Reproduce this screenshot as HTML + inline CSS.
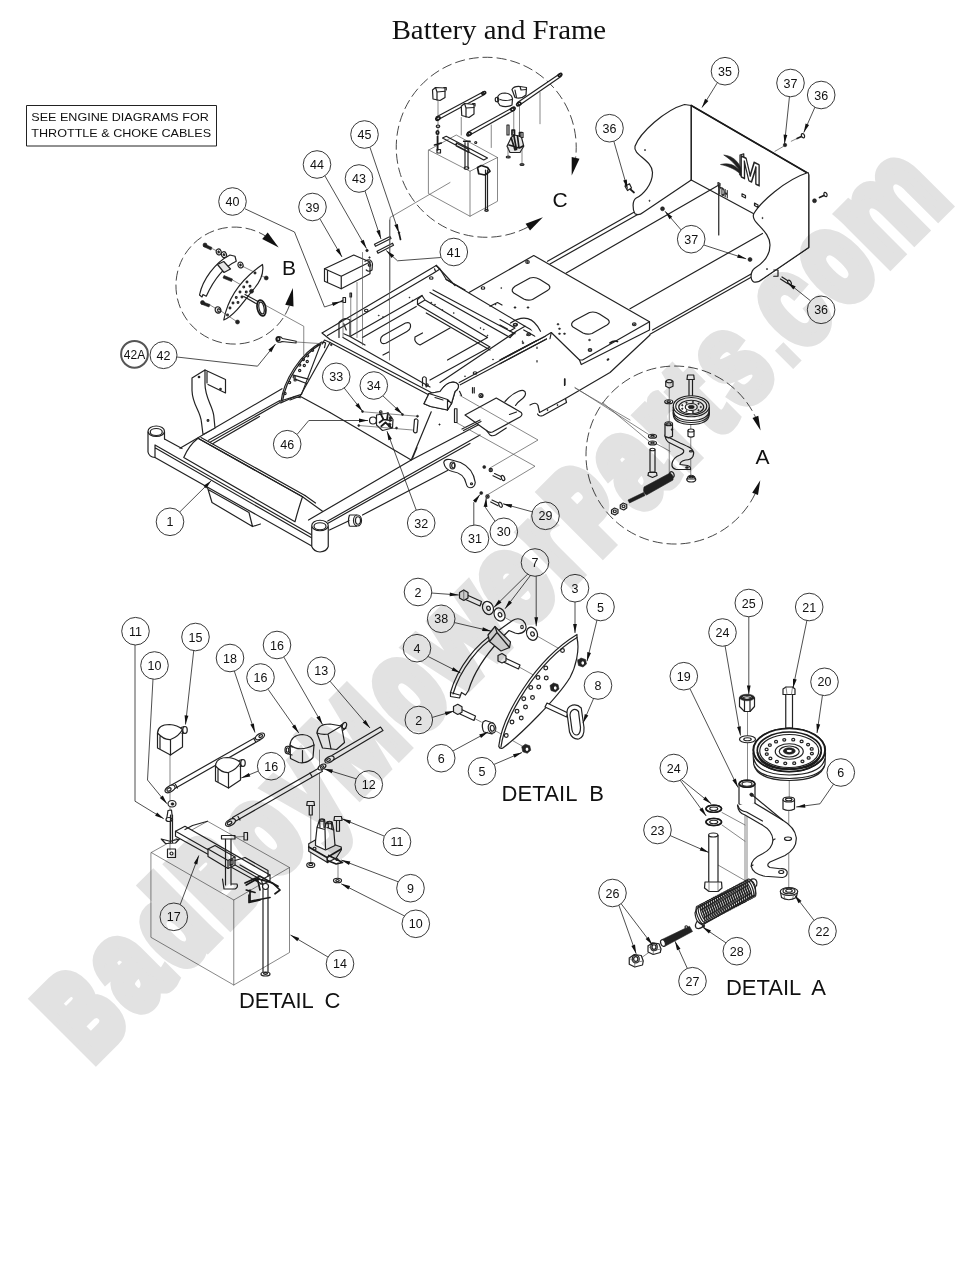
<!DOCTYPE html>
<html lang="en">
<head>
<meta charset="utf-8">
<title>Battery and Frame</title>
<style>
html,body{margin:0;padding:0;background:#fff;}
body{width:980px;height:1269px;overflow:hidden;position:relative;}
svg{display:block;position:absolute;left:0;top:0;}
path,ellipse,circle,line,rect,polyline,polygon{vector-effect:non-scaling-stroke;}
.ln{fill:none;stroke:#222;stroke-width:1.2;stroke-linecap:round;stroke-linejoin:round;}
.hv{fill:none;stroke:#1a1a1a;stroke-width:1.7;stroke-linecap:round;stroke-linejoin:round;}
.th{fill:none;stroke:#555;stroke-width:.7;stroke-linecap:round;stroke-linejoin:round;}
.ld{fill:none;stroke:#222;stroke-width:.8;stroke-linejoin:miter;}
.fw{fill:#fff;stroke:#222;stroke-width:1.2;stroke-linejoin:round;}
.fg{fill:#e6e6e6;stroke:#222;stroke-width:1.2;stroke-linejoin:round;}
.fk{fill:#222;stroke:#222;stroke-width:.6;}
.dash{fill:none;stroke:#333;stroke-width:.9;stroke-dasharray:10 4;}
.co circle{fill:#fff;stroke:#222;stroke-width:.9;}
.co text{font-family:"Liberation Sans","DejaVu Sans",sans-serif;fill:#111;text-anchor:middle;}
.big{font-family:"Liberation Sans","DejaVu Sans",sans-serif;fill:#111;}
.wm{font-family:"Liberation Sans","DejaVu Sans",sans-serif;font-weight:bold;fill:#e2e2e2;stroke:#e2e2e2;}
.wm text{vector-effect:non-scaling-stroke;}
#wm{mix-blend-mode:multiply;}
</style>
</head>
<body>
<svg width="980" height="1269" viewBox="0 0 980 1269">
<rect width="980" height="1269" fill="#fff"/>

<text x="498.9" y="38.7" text-anchor="middle" font-family="'Liberation Serif','DejaVu Serif',serif" font-size="26.5" fill="#111" textLength="214.5" lengthAdjust="spacingAndGlyphs">Battery and Frame</text>
<rect x="26.5" y="105.5" width="190" height="40.5" fill="#fff" stroke="#222" stroke-width="1"/>
<text class="big" font-size="11.6" x="31.3" y="121.3" textLength="177.5" lengthAdjust="spacingAndGlyphs">SEE ENGINE DIAGRAMS FOR</text>
<text class="big" font-size="11.6" x="31.3" y="136.6" textLength="179.8" lengthAdjust="spacingAndGlyphs">THROTTLE &amp; CHOKE CABLES</text>

<g id="rails">
<g transform="translate(500,200) scale(0.25000)"><path class="ln" d="M190,245 L548,42 M200,256 L556,55 M265,292 L872,-58 M520,435 L1050,134 M610,520 L1015,290 M600,537 L1010,306"/></g>
</g>
<g id="main">
<g transform="translate(130,340) scale(0.25000)"><path class="ln" d="M72,368 L72,448 Q76,468 100,470 M138,368 L138,396"/><ellipse class="ln" cx="105" cy="365" rx="33" ry="21"/><ellipse class="ln" cx="105" cy="368" rx="24" ry="14"/><path class="ln" d="M138,396 L208,434 M100,420 L728,780 M100,431 L726,791 M100,470 L727,824 M100,420 L100,470"/><path class="ln" d="M310,590 L328,650 L490,746 L476,690 M316,600 L476,690 M490,746 L522,736"/><path class="fw" d="M727,745 L727,826 Q735,846 760,848 Q787,846 793,826 L793,745"/><ellipse class="fw" cx="760" cy="742" rx="33" ry="21"/><ellipse class="ln" cx="760" cy="745" rx="24" ry="14"/><path class="fw" d="M272,393 Q235,422 215,470 L660,727 Q672,680 690,627 Z"/><path class="ln" d="M272,393 L690,627 M284,390 L700,622"/><path class="ln" d="M690,627 L770,685 M700,622 L742,652"/><path class="ln" d="M200,433 L608,195 M314,401 L598,243 M320,409 L600,250 M332,414 L518,306 M598,245 L656,227 L682,231"/><path class="fw" d="M248,152 L300,120 L300,176 C300,232 330,262 335,302 L340,352 L292,378 L286,330 C282,282 250,262 248,202 Z"/><path class="ln" d="M300,120 L382,158 L382,212 L312,178 M308,128 L308,172"/><circle class="ln" cx="276" cy="148" r="3"/><circle class="ln" cx="312" cy="322" r="3.5"/><circle class="ln" cx="362" cy="196" r="3"/></g>
<g transform="translate(330,340) scale(0.25000)"><path class="ln" d="M-86,720 L325,480 L600,336 M-9,724 L600,380 M-8,733 L560,414 M-2,760 L78,722 M130,700 L470,522"/><path class="fw" d="M78,700 L108,700 M78,745 L108,745 M78,700 Q70,722 78,745"/><ellipse class="fw" cx="110" cy="722" rx="16" ry="22"/><ellipse class="ln" cx="112" cy="722" rx="10" ry="15"/><path class="ln" d="M0,290 L325,480 L405,287 M330,473 L348,430"/><path class="fw" d="M376,255 L396,214 L440,206 C458,178 482,164 502,170 C522,178 514,198 500,206 L486,254 L470,280 L402,266 Z"/><path class="ln" d="M396,214 L470,238 L486,254 M470,238 L470,280 M420,230 L452,240"/><path class="fw" d="M540,300 L665,232 L765,290 Q772,300 760,308 L650,368 Q636,372 626,362 Z"/><path class="ln" d="M626,362 L640,380 Q650,386 662,380 L705,352 M600,320 L528,356 M604,326 L534,362 M718,298 L746,288"/><path class="th" d="M520,222 L832,400 L640,512 M505,330 L820,505 L632,618"/><path class="ln" d="M498,275 L498,330 M508,275 L508,330 M498,275 L508,275 M498,330 L508,330 M518,205 L526,222 M570,190 L570,212 M577,190 L577,212 M938,155 L938,182"/><circle class="ln" cx="604" cy="222" r="8"/><circle class="ln" cx="606" cy="222" r="4"/><path class="fw" d="M455,490 Q458,474 480,478 L522,490 Q572,512 581,570 Q579,591 560,591 Q548,590 545,575 Q536,532 490,526 Q460,520 455,490Z"/><ellipse class="ln" cx="490" cy="502" rx="10" ry="14"/><ellipse class="ln" cx="493" cy="502" rx="6" ry="10"/><circle class="ln" cx="566" cy="575" r="4"/><circle class="fk" cx="617" cy="508" r="6"/><circle class="ln" cx="643" cy="520" r="6.5"/><circle class="fk" cx="643" cy="520" r="3"/><path class="ln" d="M658,534 L688,548 M652,543 L683,558"/><ellipse class="fw" cx="692" cy="552" rx="6" ry="11" transform="rotate(-25 692 552)"/><circle class="fk" cx="605" cy="612" r="6"/><circle class="ln" cx="630" cy="626" r="6.5"/><circle class="fk" cx="630" cy="626" r="3"/><path class="ln" d="M648,640 L678,654 M643,648 L672,663"/><ellipse class="fw" cx="682" cy="659" rx="6" ry="11" transform="rotate(-25 682 659)"/><path class="ln" d="M700,246 C735,205 782,188 782,214 C782,236 752,240 742,262 M800,260 Q825,245 832,262 L838,290 L942,234 L946,250 L852,302 Q836,308 830,296"/><circle class="fk" cx="870" cy="280" r="2.5"/><circle class="fk" cx="910" cy="260" r="2.5"/><circle class="fw" cx="172" cy="322" r="14"/><path class="fw" d="M186,300 L232,292 L252,318 L250,352 L210,362 L186,340 Z"/><path class="hv" d="M200,290 L214,318 L198,330 M214,318 L246,322 M232,292 L228,318 M222,330 L246,352 M205,345 L222,330"/><circle class="ln" cx="203" cy="288" r="5"/><circle class="fk" cx="242" cy="312" r="6"/><circle class="fk" cx="238" cy="338" r="6"/><path class="th" d="M130,287 L350,305 M115,342 L330,360"/><path class="fw" d="M338,318 Q348,312 352,322 L348,368 Q340,376 334,366 Z"/><circle class="fk" cx="115" cy="342" r="4"/><circle class="fk" cx="130" cy="286" r="4"/><circle class="fk" cx="290" cy="298" r="4"/><circle class="fk" cx="350" cy="305" r="4"/><circle class="fk" cx="266" cy="352" r="4"/><circle class="fk" cx="240" cy="322" r="4"/><circle class="fk" cx="238" cy="345" r="4"/><circle class="fk" cx="438" cy="338" r="2.2"/></g>
<g transform="translate(240,320) scale(0.18369)"><path class="ln" d="M222,452 C235,330 330,180 445,120 L466,124 L460,150 M440,130 L335,405 M222,452 L300,416 L335,405 M290,300 L372,322 M300,322 L362,346 M232,440 C248,330 338,190 440,130"/><circle class="ln" cx="395" cy="165" r="6"/><circle class="ln" cx="368" cy="195" r="6"/><circle class="ln" cx="345" cy="215" r="6"/><circle class="ln" cx="366" cy="226" r="6"/><circle class="ln" cx="325" cy="245" r="6"/><circle class="ln" cx="350" cy="248" r="6"/><circle class="ln" cx="325" cy="275" r="6"/><circle class="ln" cx="295" cy="310" r="6"/><circle class="ln" cx="270" cy="340" r="6"/><circle class="ln" cx="245" cy="400" r="6"/><circle class="ln" cx="300" cy="326" r="6"/><circle class="fk" cx="497" cy="135" r="5"/></g>
<g transform="translate(290,220) scale(0.25000)"><path class="ln" d="M128,452 L160,478 L565,690 M160,490 L556,700 M128,452 L585,182 M40,705 L160,490 M40,705 L160,770 M0,720 L40,705"/><path class="ln" d="M150,462 L575,212 M585,182 L600,196 L625,238 M575,212 L600,196"/><path class="ln" d="M240,466 L528,302 M290,470 L505,346 M240,466 L300,500 M212,470 L560,668 M215,455 L240,466"/><path class="ln" d="M372,462 L462,412 Q485,405 482,428 Q480,440 468,446 L385,492 Q362,500 362,480 Q362,468 372,462Z"/><path class="ln" d="M372,540 L395,528 M500,468 Q495,490 520,500 L640,432 M500,468 L530,452"/><path class="ln" d="M510,318 L528,302 L540,320 L510,338 Z M540,320 L790,470 M510,338 L800,508 M560,290 L880,470 M572,280 L900,455 M625,238 L940,425 M545,372 L800,520 M800,508 L560,640 M790,470 L630,560"/><path class="ln" d="M940,425 L905,445 L880,470 M905,445 L600,650 M940,425 L980,448 M935,440 L980,465"/><path class="ln" d="M585,182 L660,262 M625,238 L700,280"/><path class="ln" d="M1020,465 L677,650 M1026,476 L681,659"/><path class="fw" d="M536,735 L556,694 L600,686 C618,658 642,644 662,650 C682,658 674,678 660,686 L646,734 L630,760 L562,746 Z"/><path class="ln" d="M556,694 L630,718 L646,734 M630,718 L630,760 M580,710 L612,720"/><path class="ln" d="M530,632 L530,664 M545,632 L545,668 M530,632 Q538,622 545,632"/><circle class="ln" cx="548" cy="660" r="5"/><path class="ln" d="M196,410 L196,470 M240,400 L240,462 M196,410 Q218,385 240,400 M215,415 L225,440"/><ellipse class="ln" cx="305" cy="362" rx="7" ry="5"/><ellipse class="ln" cx="565" cy="232" rx="7" ry="5"/><ellipse class="ln" cx="772" cy="272" rx="7" ry="5"/><ellipse class="ln" cx="945" cy="168" rx="7" ry="5"/><ellipse class="ln" cx="740" cy="612" rx="7" ry="5"/><ellipse class="ln" cx="900" cy="420" rx="7" ry="5"/><circle class="fk" cx="395" cy="318" r="2"/><circle class="fk" cx="478" cy="310" r="2"/><circle class="fk" cx="490" cy="322" r="2"/><circle class="fk" cx="355" cy="382" r="2"/><circle class="fk" cx="372" cy="388" r="2"/><circle class="fk" cx="565" cy="330" r="2"/><circle class="fk" cx="580" cy="338" r="2"/><circle class="fk" cx="610" cy="360" r="2"/><circle class="fk" cx="655" cy="372" r="2"/><circle class="fk" cx="762" cy="432" r="2"/><circle class="fk" cx="775" cy="438" r="2"/><circle class="fk" cx="790" cy="462" r="2"/><circle class="fk" cx="812" cy="558" r="2"/><circle class="fk" cx="700" cy="625" r="2"/><circle class="fk" cx="948" cy="460" r="2"/><circle class="fk" cx="930" cy="485" r="2"/><circle class="fk" cx="598" cy="818" r="2"/><circle class="fk" cx="845" cy="272" r="2"/><circle class="fk" cx="900" cy="350" r="2"/><circle class="fk" cx="822" cy="338" r="2"/><path class="ln" d="M800,345 L830,330 L848,340 M578,195 L582,205"/><path class="fw" d="M138,195 L255,140 L320,168 L320,215 L205,275 L138,245 Z"/><path class="ln" d="M138,195 L205,225 L205,275 M205,225 L320,168 M150,203 L150,250 M300,165 Q325,150 330,175 L328,200 Q315,210 305,200"/><circle class="ln" cx="318" cy="180" r="5"/><path class="fw" d="M338,97 L400,66 L404,74 L342,105 Z M348,125 L410,93 L414,101 L352,133 Z"/><circle class="fk" cx="308" cy="122" r="5"/><circle class="fk" cx="318" cy="150" r="3"/><path class="hv" d="M436,52 L442,78"/><circle class="fk" cx="436" cy="50" r="3.5"/><path class="hv" d="M204,326 L214,322"/><path class="fw" d="M212,310 L222,310 L222,330 L212,330 Z"/><path class="fw" d="M240,292 L246,292 L246,308 L240,308 Z"/><path class="th" d="M398,0 L398,560 M290,130 L290,500 M268,250 L268,470 M243,308 L243,462 M212,330 L212,470"/></g>
<g transform="translate(590,50) scale(0.25000)"><path class="ln" d="M515,540 L515,740"/><path class="fw" d="M405,222 L378,218 C300,240 200,330 180,385 C170,420 250,440 250,490 C250,540 210,580 185,592 C168,602 170,640 180,655 Q195,664 212,650 L405,520 Z"/><path class="ln" d="M405,222 L405,520"/><path class="ln" d="M405,222 L870,492 L875,500 L875,790 L690,915 M405,520 L655,655"/><path class="hv" d="M405,222 L870,492"/><path class="fw" d="M872,490 C780,520 680,610 655,655 C640,690 720,720 720,780 C720,830 680,860 660,872 C640,886 640,920 655,928 Q672,932 692,915 L875,790 L875,498 Z"/><circle class="fk" cx="220" cy="400" r="2.5"/><circle class="fk" cx="238" cy="603" r="2.5"/><circle class="fk" cx="690" cy="672" r="2.5"/><circle class="fk" cx="708" cy="876" r="2.5"/><path class="fk" d="M535,420 C578,424 604,455 616,508 C592,470 570,442 535,420Z M522,458 C562,448 594,464 614,506 C586,480 560,466 522,458Z M596,476 L618,514 L598,500Z"/><path class="ln" d="M600,420 L615,415 L615,440 M600,420 L600,470"/><path class="ln" d="M608,575 L622,582 L622,592 L608,585Z M658,612 L672,620 L672,630 L658,622Z M512,530 L520,534 L520,542 L512,538Z"/><path class="hv" d="M142,540 L176,570"/><path class="fw" d="M140,545 L158,535 L166,552 L150,562Z"/><circle class="fk" cx="290" cy="635" r="8"/><circle class="fw" cx="290" cy="635" r="3"/><circle class="fk" cx="640" cy="838" r="8"/><circle class="fw" cx="640" cy="838" r="3"/><circle class="fk" cx="780" cy="380" r="7"/><circle class="fw" cx="780" cy="380" r="2.5"/><path class="hv" d="M828,354 L850,344"/><ellipse class="fw" cx="852" cy="343" rx="6" ry="9" transform="rotate(-20 852 343)"/><circle class="fk" cx="898" cy="603" r="8"/><circle class="fw" cx="898" cy="603" r="3"/><path class="hv" d="M918,590 L940,580"/><ellipse class="fw" cx="942" cy="578" rx="6" ry="9" transform="rotate(-20 942 578)"/><path class="ln" d="M735,880 L752,880 L752,905 L735,905"/><path class="ln" d="M768,908 L796,926 M762,916 L790,934"/><ellipse class="fw" cx="798" cy="930" rx="6" ry="10" transform="rotate(-30 798 930)"/><path class="th" d="M740,405 L775,385 M805,365 L828,354"/></g>
<text x="0" y="0" font-family="'Liberation Sans',sans-serif" font-weight="bold" font-size="30.5" fill="#fff" stroke="#222" stroke-width="1.6" stroke-linejoin="round" transform="translate(739.5,176) skewY(26.5) scale(.84,1)">M</text>
<text x="0" y="0" font-family="'Liberation Sans',sans-serif" font-weight="bold" font-size="8" fill="#222" stroke="#222" stroke-width="0.5" transform="translate(718.2,193.3) skewY(26.5) scale(.6,1.35)">TDH</text>
<g transform="translate(500,200) scale(0.25000)"><path class="ln" d="M0,640 L180,545 M0,655 L186,556 M262,794 L440,690 L600,540 M260,715 L260,740 M148,588 L148,594 M148,642 L148,648"/><path class="th" d="M300,752 L520,880"/><ellipse class="fk" cx="432" cy="638" rx="5" ry="3" transform="rotate(-30 432 638)"/><path d="M80,252 L135,222 L598,487 L598,520 L325,658 L318,640 L205,530 L180,545 L150,560 L80,440 Z" fill="#fff"/><path class="ln" d="M-124,370 L135,222 L598,487 L598,520 L325,658 L318,640 L205,530 L180,545 L0,640"/><path class="ln" d="M598,487 L330,640 L318,640 M205,530 L200,555"/><path class="ln" d="M60,345 L120,312 Q140,306 160,318 L195,340 Q206,352 190,362 L130,398 Q112,404 95,396 L55,372 Q40,360 60,345Z"/><path class="ln" d="M298,482 L358,450 Q378,444 398,456 L432,478 Q444,490 428,500 L368,534 Q350,540 332,532 L292,508 Q278,496 298,482Z"/><ellipse class="ln" cx="110" cy="248" rx="7" ry="6"/><ellipse class="fk" cx="110" cy="248" rx="3" ry="2.5"/><ellipse class="ln" cx="537" cy="497" rx="7" ry="6"/><ellipse class="fk" cx="537" cy="497" rx="3" ry="2.5"/><ellipse class="ln" cx="360" cy="600" rx="7" ry="6"/><ellipse class="fk" cx="360" cy="600" rx="3" ry="2.5"/><ellipse class="ln" cx="115" cy="537" rx="7" ry="6"/><ellipse class="fk" cx="115" cy="537" rx="3" ry="2.5"/><ellipse class="fk" cx="60" cy="430" rx="4" ry="3"/><ellipse class="fk" cx="112" cy="430" rx="4" ry="3"/><ellipse class="fk" cx="232" cy="497" rx="4" ry="3"/><ellipse class="fk" cx="238" cy="515" rx="4" ry="3"/><ellipse class="fk" cx="238" cy="535" rx="4" ry="3"/><ellipse class="fk" cx="258" cy="535" rx="4" ry="3"/><ellipse class="fk" cx="358" cy="560" rx="4" ry="3"/><ellipse class="fk" cx="92" cy="572" rx="4" ry="3"/><path class="ln" d="M42,492 Q120,440 162,525 M0,478 L60,512 L40,524 M0,500 L30,516"/><ellipse class="ln" cx="62" cy="498" rx="8" ry="5"/><path class="hv" d="M440,572 Q455,560 470,566"/></g>
<path class="dash" d="M755.1,493.8 A89,89 0 1 1 755.4,416.9"/><path d="M760.6,430.5L752.5,418.0L758.3,415.8Z" fill="#111"/><path d="M760.3,480.3L758.0,494.9L752.2,492.7Z" fill="#111"/>
<text class="big" x="762.5" y="463.5" font-size="21" text-anchor="middle">A</text>
<g transform="translate(570,350) scale(0.25000)"><path class="th" d="M397,150 L397,500 M483,290 L483,505 M20,150 L318,340 M130,210 L320,368 M345,375 L400,405"/><path class="fg" d="M383,125 L397,118 L412,125 L412,145 L397,152 L383,145Z"/><ellipse class="fw" cx="397" cy="125" rx="12" ry="6"/><ellipse class="fw" cx="395" cy="207" rx="16" ry="8"/><ellipse class="ln" cx="395" cy="207" rx="7" ry="3.5"/><path class="fw" d="M476,118 L476,188 L490,188 L490,118"/><path class="fw" d="M470,100 L495,100 L497,118 L468,118Z"/><path class="fw" d="M413,228 L413,258 Q415,296 485,298 Q555,296 557,258 L557,228"/><path class="ln" d="M413,240 Q415,280 485,282 Q555,280 557,240 M413,250 Q415,288 485,290 Q555,288 557,250"/><ellipse class="fw" cx="485" cy="225" rx="72" ry="42"/><ellipse class="ln" cx="485" cy="225" rx="62" ry="35"/><ellipse class="ln" cx="485" cy="228" rx="50" ry="27"/><ellipse class="ln" cx="485" cy="228" rx="24" ry="14"/><ellipse class="fk" cx="485" cy="228" rx="12" ry="7"/><circle class="fk" cx="523.0" cy="228.0" r="3"/><circle class="fk" cx="514.1096888385212" cy="240.85575219373078" r="3"/><circle class="fk" cx="491.59863075134336" cy="247.69615506024417" r="3"/><circle class="fk" cx="466.0" cy="245.32050807568876" r="3"/><circle class="fk" cx="449.2916804101355" cy="234.8404028665134" r="3"/><circle class="fk" cx="449.2916804101355" cy="221.1595971334866" r="3"/><circle class="fk" cx="466.0" cy="210.67949192431124" r="3"/><circle class="fk" cx="491.59863075134336" cy="208.30384493975583" r="3"/><circle class="fk" cx="514.1096888385212" cy="215.14424780626922" r="3"/><path class="fw" d="M472,322 L472,345 Q484,352 496,345 L496,322"/><ellipse class="fw" cx="484" cy="322" rx="12" ry="6"/><path class="fw" d="M380,340 Q385,352 400,352 L440,372 Q470,385 482,392 Q500,405 492,425 Q485,440 462,440 Q440,445 440,458 L470,462 Q484,466 482,478 L425,478 Q405,472 408,455 Q412,430 440,420 Q462,410 452,398 L400,372 Q382,365 380,340Z"/><path class="fw" d="M380,295 L380,345 Q395,355 410,345 L410,295"/><ellipse class="fw" cx="395" cy="295" rx="15" ry="8"/><ellipse class="ln" cx="395" cy="296" rx="9" ry="4.5"/><circle class="fk" cx="408" cy="318" r="3.5"/><ellipse class="ln" cx="484" cy="405" rx="6" ry="3"/><ellipse class="ln" cx="468" cy="470" rx="5" ry="2.5"/><ellipse class="fw" cx="330" cy="345" rx="16" ry="8"/><ellipse class="ln" cx="330" cy="345" rx="7" ry="3.5"/><ellipse class="fw" cx="330" cy="372" rx="16" ry="8"/><ellipse class="ln" cx="330" cy="372" rx="7" ry="3.5"/><path class="fw" d="M320,398 L320,488 L340,488 L340,398"/><ellipse class="fw" cx="330" cy="398" rx="10" ry="5"/><path class="fw" d="M314,490 L346,490 L348,502 L330,510 L312,502Z"/><ellipse class="fw" cx="485" cy="518" rx="18" ry="10"/><path class="fw" d="M472,506 L498,506 L500,516 L470,516Z"/><ellipse class="ln" cx="485" cy="506" rx="10" ry="5"/><path class="fk" d="M296,548 L400,492 Q416,500 412,520 L306,580 Q290,572 296,548Z"/><ellipse class="ln" cx="408" cy="498" rx="8" ry="12" transform="rotate(-25 408 498)"/><path class="fk" d="M232,600 L294,570 L300,582 L238,612Z"/><path class="fg" d="M166,640 L178,632 L192,638 L192,652 L180,660 L166,654Z"/><ellipse class="fw" cx="179" cy="645" rx="6" ry="5"/><path class="fg" d="M201,620 L213,612 L227,618 L227,632 L215,640 L201,634Z"/><ellipse class="fw" cx="214" cy="625" rx="6" ry="5"/></g>
<path class="dash" d="M527.8,227.1 A90,90 0 1 1 575.6,157.9"/><path d="M571.7,175.5L571.7,157.1L579.5,158.8Z" fill="#111"/><path d="M542.9,217.2L530.0,230.4L525.6,223.7Z" fill="#111"/>
<text class="big" x="560" y="207" font-size="21" text-anchor="middle">C</text>
<g transform="translate(370,50) scale(0.25000)"><path class="th" d="M272,200 L272,400 M365,270 L365,340 M485,300 L485,390 M680,170 L680,295 M575,240 L575,330 M598,215 L598,330 M320,530 L80,670 L80,960"/><path class="th" d="M235,400 L345,340 L510,430 L510,605 L400,665 L235,575Z M235,400 L400,485 L510,430 M400,485 L400,665"/><path class="ln" d="M290,352 L455,440 L470,432 L305,345Z M345,372 L395,398 L395,410 L345,384Z"/><path class="ln" d="M380,370 L380,470 M392,370 L392,470 M462,480 L462,640 M470,480 L470,640"/><ellipse class="ln" cx="466" cy="642" rx="7" ry="3.5"/><ellipse class="ln" cx="386" cy="472" rx="9" ry="5"/><path class="hv" d="M375,365 L400,365"/><path class="hv" d="M430,470 L445,462 L470,470 L480,485 L460,500 L435,495Z"/><path class="hv" d="M270,345 L270,400 M258,380 L285,372"/><path class="ln" d="M268,398 L282,398 L282,412 L268,412Z"/><circle class="ln" cx="423" cy="370" r="4"/><path class="fw" d="M265,268 L452,168 L458,178 L270,280Z M390,330 L572,230 L578,240 L396,342Z M590,210 L758,96 L764,106 L596,222Z"/><ellipse class="hv" cx="272" cy="274" rx="9" ry="6" transform="rotate(-28 272 274)"/><ellipse class="hv" cx="455" cy="172" rx="8" ry="5" transform="rotate(-28 455 172)"/><ellipse class="hv" cx="396" cy="336" rx="9" ry="6" transform="rotate(-28 396 336)"/><ellipse class="hv" cx="572" cy="236" rx="9" ry="6" transform="rotate(-28 572 236)"/><ellipse class="hv" cx="595" cy="216" rx="9" ry="6" transform="rotate(-28 595 216)"/><ellipse class="hv" cx="760" cy="100" rx="8" ry="5" transform="rotate(-28 760 100)"/><path class="fw" d="M250,160 L262,150 L300,152 L300,190 L280,202 L252,196Z"/><path class="ln" d="M262,150 L268,168 L300,165 M268,168 L268,200 M295,150 L305,150 L305,160"/><path class="fw" d="M365,225 L378,214 L416,218 L416,256 L396,270 L367,262Z"/><path class="ln" d="M378,214 L384,232 L416,230 M384,232 L384,268 M410,214 L420,214 L420,224"/><path class="fw" d="M510,190 Q515,172 540,172 Q568,174 570,196 L568,220 Q545,232 520,222 L512,210Z"/><ellipse class="ln" cx="508" cy="198" rx="7" ry="9"/><path class="ln" d="M520,198 Q540,206 568,198"/><path class="fw" d="M568,158 Q575,144 600,146 L626,150 L624,180 Q605,198 580,190Z"/><path class="ln" d="M580,160 L586,190 M600,146 L604,160 L626,158"/><path class="fg" d="M548,385 L565,350 L575,340 L605,345 L615,385 L600,410 L560,410Z"/><path class="hv" d="M556,380 L598,392 L612,384 M565,352 L580,400 M590,345 L596,392 M575,340 L586,398"/><path class="hv" d="M568,340 L568,320 L578,320 L578,340 M598,345 L598,330 L608,330 L608,348"/><path class="fw" d="M548,300 L556,300 L556,340 L548,340Z"/><path class="fw" d="M604,330 L612,330 L612,350 L604,350Z"/><ellipse class="ln" cx="553" cy="428" rx="8" ry="4"/><ellipse class="ln" cx="608" cy="458" rx="8" ry="4"/><ellipse class="fk" cx="553" cy="428" rx="3" ry="1.5"/><ellipse class="fk" cx="608" cy="458" rx="3" ry="1.5"/><path class="th" d="M552,390 L552,425 M608,400 L608,455"/><ellipse class="ln" cx="272" cy="305" rx="7" ry="5"/><ellipse class="hv" cx="270" cy="330" rx="5" ry="7"/></g>
<path class="dash" d="M289.4,305.6 A58.5,58.5 0 1 1 265.0,235.7"/><path d="M278.7,247.4L262.2,239.0L267.7,232.5Z" fill="#111"/><path d="M292.9,287.9L293.5,306.4L285.2,304.8Z" fill="#111"/>
<text class="big" x="289" y="274.5" font-size="21" text-anchor="middle">B</text>
<g transform="translate(110,180) scale(0.25000)"><path class="th" d="M410,275 L430,285 M530,345 L620,390 M490,400 L560,440 M400,500 L425,515 M445,525 L505,565 M620,500 L775,585 L775,700"/><path class="fw" d="M358,460 C370,400 420,330 480,300 L500,305 L505,325 C450,350 410,410 385,465 L372,458 L368,468Z"/><path class="fw" d="M455,560 C470,480 520,400 610,338 C616,372 600,410 570,442 C540,480 500,540 455,560Z"/><circle class="ln" cx="548" cy="408" r="3.5"/><circle class="ln" cx="535" cy="428" r="3.5"/><circle class="ln" cx="520" cy="448" r="3.5"/><circle class="ln" cx="505" cy="470" r="3.5"/><circle class="ln" cx="492" cy="492" r="3.5"/><circle class="ln" cx="480" cy="512" r="3.5"/><circle class="ln" cx="560" cy="425" r="3.5"/><circle class="ln" cx="545" cy="448" r="3.5"/><circle class="ln" cx="528" cy="468" r="3.5"/><circle class="ln" cx="512" cy="490" r="3.5"/><circle class="ln" cx="470" cy="540" r="3.5"/><circle class="ln" cx="580" cy="372" r="3.5"/><path class="fg" d="M430,338 L455,326 L482,356 L456,370Z"/><path class="fk" d="M378,256 L408,270 L404,280 L374,266Z"/><circle class="fk" cx="380" cy="260" r="8"/><ellipse class="fw" cx="435" cy="288" rx="10" ry="12" transform="rotate(-25 435 288)"/><ellipse class="fk" cx="435" cy="288" rx="4" ry="5" transform="rotate(-25 435 288)"/><ellipse class="fw" cx="456" cy="299" rx="10" ry="12" transform="rotate(-25 456 299)"/><ellipse class="fk" cx="456" cy="299" rx="4" ry="5" transform="rotate(-25 456 299)"/><ellipse class="fw" cx="522" cy="340" rx="10" ry="12" transform="rotate(-25 522 340)"/><ellipse class="fk" cx="522" cy="340" rx="4" ry="5" transform="rotate(-25 522 340)"/><path class="fk" d="M456,382 L490,396 L486,406 L452,392Z"/><path class="fk" d="M368,486 L400,498 L396,508 L364,496Z"/><circle class="fk" cx="370" cy="490" r="8"/><ellipse class="fg" cx="432" cy="520" rx="11" ry="13" transform="rotate(-25 432 520)"/><ellipse class="fw" cx="436" cy="522" rx="5" ry="7" transform="rotate(-25 436 522)"/><circle class="fk" cx="625" cy="392" r="8"/><circle class="fk" cx="566" cy="445" r="8"/><circle class="fk" cx="510" cy="568" r="8"/><path class="ln" d="M540,458 L592,486 M535,466 L586,495"/><ellipse class="hv" cx="606" cy="512" rx="17" ry="32" transform="rotate(-12 606 512)"/><ellipse class="ln" cx="606" cy="512" rx="10" ry="24" transform="rotate(-12 606 512)"/></g>
<g transform="translate(110,180) scale(0.25000)"><path class="fw" d="M668,628 Q682,624 690,634 L745,645 L744,652 L688,646 Q678,652 668,646Z"/><circle class="hv" cx="672" cy="636" r="7"/><path class="th" d="M745,648 L850,655"/><path class="ln" d="M850,655 L858,640 L880,650"/></g>
</g>
<g id="detb">
<g transform="translate(395,555) scale(0.25000)"><path class="th" d="M345,195 L352,200 M440,250 L500,285 M570,325 L735,420 M500,450 L625,520 M320,655 L345,668 M405,705 L510,765 M560,572 L610,600"/><path class="fw" d="M222,550 C250,450 330,350 400,312 L470,262 Q492,248 512,262 Q532,282 520,302 Q504,320 480,312 L456,302 L428,330 C362,400 312,480 294,542 L282,560 L266,550 L258,572 L222,566Z"/><path class="ln" d="M232,556 C260,458 338,360 406,322 M222,550 L258,560"/><ellipse class="ln" cx="508" cy="288" rx="5" ry="7"/><path class="fg" d="M372,320 L400,286 L462,348 L458,370 L424,384 L378,346Z"/><path class="ln" d="M400,286 L408,310 L378,346 M408,310 L458,370"/><path class="fw" d="M415,765 C430,640 560,420 728,318 L728,332 C740,380 722,450 700,490 C650,572 500,722 430,773 Q418,776 415,765Z"/><path class="ln" d="M424,768 C440,646 566,430 728,330"/><circle class="ln" cx="670" cy="382" r="7.5"/><circle class="ln" cx="603" cy="452" r="7.5"/><circle class="ln" cx="572" cy="490" r="7.5"/><circle class="ln" cx="605" cy="492" r="7.5"/><circle class="ln" cx="543" cy="530" r="7.5"/><circle class="ln" cx="575" cy="528" r="7.5"/><circle class="ln" cx="515" cy="575" r="7.5"/><circle class="ln" cx="550" cy="570" r="7.5"/><circle class="ln" cx="488" cy="625" r="7.5"/><circle class="ln" cx="522" cy="608" r="7.5"/><circle class="ln" cx="468" cy="668" r="7.5"/><circle class="ln" cx="505" cy="652" r="7.5"/><circle class="ln" cx="445" cy="722" r="7.5"/><path class="fw" d="M288,160 L346,186 L340,204 L282,178Z"/><path class="fg" d="M258,150 L275,140 L292,150 L292,172 L275,182 L258,172Z"/><path class="th" d="M275,140 L275,182"/><ellipse class="fw" cx="372" cy="212" rx="21" ry="27" transform="rotate(-25 372 212)"/><ellipse class="ln" cx="374" cy="213" rx="7" ry="9" transform="rotate(-25 374 213)"/><ellipse class="fw" cx="418" cy="238" rx="21" ry="27" transform="rotate(-25 418 238)"/><ellipse class="ln" cx="420" cy="239" rx="7" ry="9" transform="rotate(-25 420 239)"/><ellipse class="fw" cx="548" cy="315" rx="21" ry="27" transform="rotate(-25 548 315)"/><ellipse class="ln" cx="550" cy="316" rx="7" ry="9" transform="rotate(-25 550 316)"/><path class="fw" d="M440,412 L500,440 L494,456 L434,428Z"/><path class="fg" d="M412,402 L428,394 L444,404 L444,424 L428,432 L412,424Z"/><path class="fw" d="M266,618 L322,644 L316,662 L260,636Z"/><path class="fg" d="M234,606 L251,597 L268,607 L268,629 L251,638 L234,628Z"/><path class="fw" d="M352,668 Q345,690 356,708 L388,716 L392,672 L362,662Z"/><ellipse class="fw" cx="388" cy="692" rx="15" ry="21" transform="rotate(-10 388 692)"/><ellipse class="ln" cx="389" cy="693" rx="8" ry="12" transform="rotate(-10 389 693)"/><path class="fk" d="M730,422 L744,412 L762,418 L766,436 L752,448 L734,442Z"/><ellipse class="fw" cx="751" cy="432" rx="8" ry="9"/><path class="fk" d="M620,522 L634,512 L652,518 L656,536 L642,548 L624,542Z"/><ellipse class="fw" cx="641" cy="532" rx="8" ry="9"/><path class="fk" d="M507,767 L521,757 L539,763 L543,781 L529,793 L511,787Z"/><ellipse class="fw" cx="528" cy="777" rx="8" ry="9"/><path class="fw" d="M608,592 L692,632 L686,648 L600,608Z"/><path class="fw" d="M700,605 Q725,592 745,612 L756,690 Q758,728 735,736 Q708,738 698,708 L688,632 Q688,612 700,605Z"/><path class="ln" d="M708,622 Q722,612 734,626 L742,690 Q742,716 728,720 Q712,720 708,700 L700,640 Q700,628 708,622Z"/></g>
<text class="big" x="501.5" y="801.3" font-size="22" textLength="102.5" lengthAdjust="spacing" xml:space="preserve">DETAIL  B</text>
</g>
<g id="detc">
<g transform="translate(110,610) scale(0.25000)"><path class="th" d="M240,580 L240,960 M838,560 L838,960"/><path class="fw" d="M246,700 L590,505 L600,520 L256,716Z"/><path class="ln" d="M262,698 L270,712 M575,514 L583,528"/><ellipse class="fw" cx="240" cy="716" rx="22" ry="12" transform="rotate(-30 240 716)"/><ellipse class="ln" cx="236" cy="718" rx="9" ry="6" transform="rotate(-30 236 718)"/><ellipse class="fw" cx="600" cy="506" rx="20" ry="11" transform="rotate(-30 600 506)"/><ellipse class="ln" cx="603" cy="504" rx="8" ry="5" transform="rotate(-30 603 504)"/><path class="fw" d="M490,830 L840,630 L850,645 L500,846Z"/><path class="ln" d="M512,826 L520,840 M800,652 L808,666"/><ellipse class="fw" cx="482" cy="850" rx="22" ry="12" transform="rotate(-30 482 850)"/><ellipse class="ln" cx="478" cy="852" rx="10" ry="6" transform="rotate(-30 478 852)"/><ellipse class="fw" cx="848" cy="628" rx="17" ry="9" transform="rotate(-30 848 628)"/><ellipse class="ln" cx="848" cy="628" rx="7" ry="4" transform="rotate(-30 848 628)"/><path class="fw" d="M884,584 L1082,468 L1092,482 L894,600Z"/><ellipse class="fw" cx="878" cy="598" rx="20" ry="11" transform="rotate(-30 878 598)"/><ellipse class="ln" cx="874" cy="600" rx="8" ry="5" transform="rotate(-30 874 600)"/><path class="fw" d="M190,492 Q192,458 238,458 Q270,460 290,478 L290,548 L242,580 L190,552Z"/><path class="ln" d="M190,492 Q215,520 242,518 L242,580 M242,518 Q275,506 290,478 M200,506 L200,554"/><path class="ln" d="M284,470 L298,466 M288,494 L302,492"/><ellipse class="fw" cx="300" cy="480" rx="9" ry="14"/><path class="fw" d="M422,624 Q424,590 470,590 Q502,592 522,610 L522,680 L474,712 L422,684Z"/><path class="ln" d="M422,624 Q447,652 474,650 L474,712 M474,650 Q507,638 522,610 M432,638 L432,686"/><path class="ln" d="M516,602 L530,598 M520,626 L534,624"/><ellipse class="fw" cx="532" cy="612" rx="9" ry="14"/><path class="fw" d="M720,540 Q724,500 770,498 Q812,500 816,540 L812,590 Q790,616 755,610 L722,594Z"/><path class="ln" d="M720,540 Q760,570 816,540 M770,562 L770,610"/><path class="ln" d="M712,545 L730,548 M710,575 L728,580"/><ellipse class="fw" cx="710" cy="560" rx="10" ry="15"/><ellipse class="ln" cx="710" cy="560" rx="5" ry="9"/><path class="fw" d="M828,492 Q830,456 880,456 L926,464 L938,530 L906,558 L850,552Z"/><path class="ln" d="M828,492 Q850,500 872,496 L926,464 M872,496 L884,556 M922,462 L936,452 M930,482 L944,472"/><ellipse class="fw" cx="938" cy="462" rx="8" ry="13" transform="rotate(20 938 462)"/><ellipse class="fw" cx="248" cy="775" rx="16" ry="13"/><ellipse class="fk" cx="250" cy="776" rx="6" ry="5"/><path class="fw" d="M232,802 L246,800 L250,838 Q240,848 226,840Z"/><ellipse class="fw" cx="236" cy="838" rx="12" ry="8"/></g>
<g transform="translate(110,790) scale(0.25000)"><path class="th" d="M165,250 L390,125 L718,310 L718,650 L495,780 L165,590Z M165,250 L495,440 L718,310 M495,440 L495,780"/><path class="fw" d="M262,165 L300,145 L640,340 L640,362 L610,378 L262,185Z"/><path class="ln" d="M262,165 L606,360 L640,340 M606,360 L610,378 M300,158 L330,142 L390,125"/><path class="fw" d="M392,236 L420,222 L500,268 L500,300 L472,314 L392,266Z"/><path class="ln" d="M392,236 L472,282 L500,268 M472,282 L472,314 M480,284 L492,278 L492,296 L480,302Z"/><path class="ln" d="M242,100 L242,210 M250,100 L250,210 M205,196 L240,205 L278,196 L262,212 L222,214Z M230,236 L262,236 L262,270 L230,270Z"/><circle class="ln" cx="246" cy="254" r="6"/><path class="ln" d="M462,195 L462,380 M484,195 L484,380 M446,182 L500,182 L500,196 L446,196Z M450,356 L456,396 L500,396 Q514,390 508,376 L484,376"/><path class="th" d="M500,188 L536,186"/><path class="fw" d="M536,170 L550,170 L550,200 L536,200Z"/><path class="ln" d="M500,282 L540,270 L632,322 L632,345 M520,300 L600,345"/><path class="hv" d="M545,380 L590,355 L650,372 L680,400 L660,415 M560,400 L560,445 L640,430 M590,355 L600,400 M545,400 L580,410"/><path class="hv" d="M540,372 L600,345 L672,385 M556,420 L556,450 L600,440"/><circle class="fw" cx="622" cy="386" r="12"/><path class="ln" d="M612,398 L612,730 M632,398 L632,730"/><ellipse class="fw" cx="622" cy="736" rx="18" ry="8"/><ellipse class="ln" cx="622" cy="734" rx="8" ry="3.5"/><path class="th" d="M803,100 L803,290 M912,290 L912,350"/><path class="fw" d="M797,62 L797,100 L809,100 L809,62"/><path class="fw" d="M789,46 L816,46 L818,62 L787,62Z"/><path class="fw" d="M906,122 L906,165 L918,165 L918,122"/><path class="fw" d="M898,106 L926,106 L928,122 L896,122Z"/><path class="fg" d="M795,215 L830,195 L925,228 L925,240 L905,272 L870,290 L795,245Z"/><path class="hv" d="M795,228 L868,270 L925,236 M868,270 L870,290 M875,262 L915,282 L930,290 L905,296 L870,282"/><path class="fw" d="M822,205 L828,150 L838,120 L858,118 L862,140 L868,128 L888,128 L895,160 L900,222 L862,240 L822,222Z"/><path class="ln" d="M830,150 L860,158 L862,140 M860,158 L862,236 M868,150 L894,160 M838,120 L840,150 M856,120 L856,150 M872,130 L874,152 M886,130 L888,156"/><ellipse class="ln" cx="848" cy="120" rx="10" ry="5"/><ellipse class="ln" cx="878" cy="130" rx="10" ry="5"/><ellipse class="fw" cx="803" cy="300" rx="16" ry="10"/><ellipse class="ln" cx="803" cy="298" rx="8" ry="4.5"/><ellipse class="fw" cx="910" cy="362" rx="16" ry="9"/><ellipse class="ln" cx="910" cy="362" rx="7" ry="4"/><circle class="ln" cx="818" cy="235" r="6"/><circle class="ln" cx="908" cy="278" r="4"/></g>
<text class="big" x="239" y="1008" font-size="22" textLength="101.5" lengthAdjust="spacing" xml:space="preserve">DETAIL  C</text>
</g>
<g id="deta">
<g transform="translate(640,580) scale(0.25000)"><path class="th" d="M430,525 L430,800 M597,590 L597,640 M597,800 L597,870"/><path class="fw" d="M398,470 L398,506 L418,526 L440,526 L458,506 L458,470"/><path class="ln" d="M418,482 L418,526 M440,482 L440,526"/><ellipse class="fk" cx="428" cy="470" rx="30" ry="13"/><ellipse class="fw" cx="428" cy="470" rx="20" ry="8"/><ellipse class="ln" cx="428" cy="472" rx="14" ry="5"/><ellipse class="fw" cx="430" cy="637" rx="32" ry="14"/><ellipse class="ln" cx="430" cy="637" rx="15" ry="6"/><path class="fw" d="M583,458 L583,592 L610,592 L610,458"/><path class="fw" d="M572,436 L584,428 L610,428 L620,436 L620,458 L572,458Z"/><path class="th" d="M584,428 L588,458 M610,428 L606,458"/><path class="fw" d="M452,690 L455,738 Q470,800 597,802 Q725,800 740,738 L742,690"/><path class="ln" d="M455,715 Q470,778 597,780 Q725,778 740,715 M458,745 Q480,792 597,794 Q715,792 737,745"/><ellipse class="fw" cx="597" cy="680" rx="145" ry="88"/><ellipse class="hv" cx="597" cy="680" rx="143" ry="86"/><ellipse class="hv" cx="597" cy="682" rx="128" ry="74"/><ellipse class="ln" cx="597" cy="684" rx="118" ry="66"/><path class="hv" d="M470,690 Q480,755 597,757 Q714,755 724,690"/><ellipse class="ln" cx="597" cy="686" rx="56" ry="31"/><ellipse class="ln" cx="597" cy="686" rx="40" ry="22"/><ellipse class="fk" cx="597" cy="684" rx="24" ry="13"/><ellipse class="fw" cx="597" cy="684" rx="13" ry="7"/><ellipse class="ln" cx="687.6023132771231" cy="694.3351125280127" rx="6" ry="5"/><ellipse class="ln" cx="674.5920130147855" cy="711.7903812006475" rx="6" ry="5"/><ellipse class="ln" cx="649.7690321442963" cy="725.3192981258716" rx="6" ry="5"/><ellipse class="ln" cx="616.9124444823054" cy="732.8622083417567" rx="6" ry="5"/><ellipse class="ln" cx="581.0243676546424" cy="733.270772144586" rx="6" ry="5"/><ellipse class="ln" cx="547.5684360320922" cy="726.4827893990185" rx="6" ry="5"/><ellipse class="ln" cx="521.6380119254127" cy="713.5316689448503" rx="6" ry="5"/><ellipse class="ln" cx="507.1807673449661" cy="696.3891014690289" rx="6" ry="5"/><ellipse class="ln" cx="506.39768672287687" cy="677.6648874719873" rx="6" ry="5"/><ellipse class="ln" cx="519.4079869852145" cy="660.2096187993525" rx="6" ry="5"/><ellipse class="ln" cx="544.2309678557037" cy="646.6807018741284" rx="6" ry="5"/><ellipse class="ln" cx="577.0875555176946" cy="639.1377916582433" rx="6" ry="5"/><ellipse class="ln" cx="612.9756323453576" cy="638.729227855414" rx="6" ry="5"/><ellipse class="ln" cx="646.4315639679078" cy="645.5172106009815" rx="6" ry="5"/><ellipse class="ln" cx="672.3619880745872" cy="658.4683310551497" rx="6" ry="5"/><ellipse class="ln" cx="686.8192326550338" cy="675.6108985309711" rx="6" ry="5"/><path class="fw" d="M396,815 L396,896 Q428,915 460,892 L460,815"/><ellipse class="fw" cx="428" cy="815" rx="32" ry="15"/><ellipse class="hv" cx="428" cy="815" rx="31" ry="14"/><ellipse class="ln" cx="428" cy="816" rx="20" ry="9"/><circle class="fk" cx="445" cy="858" r="6"/><path class="fw" d="M572,878 L572,916 Q595,928 618,916 L618,878"/><ellipse class="fw" cx="595" cy="878" rx="23" ry="10"/><ellipse class="ln" cx="595" cy="878" rx="13" ry="5.5"/></g>
<g transform="translate(610,790) scale(0.25000)"><path class="th" d="M540,100 L540,370 M548,100 L548,370 M448,90 L540,140 M448,140 L540,205 M432,300 L545,365 M715,80 L715,175 M715,215 L715,392 M130,668 L158,648"/><path class="fw" d="M510,60 Q512,92 540,100 L600,135 Q650,160 652,200 Q650,235 610,255 Q565,275 565,305 Q570,335 620,345 L690,350 Q712,345 708,325 Q700,312 680,315 L640,310 Q622,300 640,288 L700,262 Q748,235 745,190 Q740,150 690,120 L578,52"/><path class="ln" d="M510,60 L516,72 Q520,82 546,88 L610,124 M565,305 L572,300 M652,200 L660,196"/><ellipse class="ln" cx="712" cy="195" rx="14" ry="7"/><ellipse class="ln" cx="685" cy="328" rx="10" ry="6"/><circle class="fk" cx="568" cy="20" r="6"/><path class="ln" d="M574,24 L690,120"/><ellipse class="fw" cx="415" cy="75" rx="32" ry="15"/><ellipse class="hv" cx="415" cy="75" rx="31" ry="14"/><ellipse class="ln" cx="415" cy="75" rx="16" ry="7"/><ellipse class="fw" cx="415" cy="128" rx="32" ry="15"/><ellipse class="hv" cx="415" cy="128" rx="31" ry="14"/><ellipse class="ln" cx="415" cy="128" rx="16" ry="7"/><path class="fw" d="M395,180 L395,370 L432,370 L432,180"/><ellipse class="fw" cx="413" cy="180" rx="18.5" ry="8"/><path class="fw" d="M380,368 L446,368 L448,392 L432,406 L396,406 L378,392Z"/><path class="th" d="M396,370 L396,406 M432,370 L432,406"/><path class="fw" d="M682,408 L686,430 Q715,448 745,430 L750,408"/><ellipse class="fw" cx="716" cy="406" rx="35" ry="16"/><ellipse class="ln" cx="716" cy="404" rx="24" ry="11"/><ellipse class="ln" cx="716" cy="403" rx="13" ry="6"/><path class="th" d="M696,420 L700,438 M734,420 L730,438"/><path class="ln" d="M558,372 Q560,352 578,356 Q592,362 586,384"/><path class="ln" d="M352,520 Q336,540 345,552 Q360,560 378,540"/><path class="ln" d="M356,528 L378,548"/><path class="fw" d="M340,492 Q345,470 365,462 L565,362 Q588,375 580,420 L376,536 Q345,540 340,492Z"/><ellipse class="ln" cx="362.0" cy="500.0" rx="13" ry="38" transform="rotate(-20 362.0 500.0)"/><ellipse class="ln" cx="370.2" cy="495.7" rx="13" ry="38" transform="rotate(-20 370.2 495.7)"/><ellipse class="ln" cx="378.3" cy="491.4" rx="13" ry="38" transform="rotate(-20 378.3 491.4)"/><ellipse class="ln" cx="386.5" cy="487.0" rx="13" ry="38" transform="rotate(-20 386.5 487.0)"/><ellipse class="ln" cx="394.6" cy="482.7" rx="13" ry="38" transform="rotate(-20 394.6 482.7)"/><ellipse class="ln" cx="402.8" cy="478.4" rx="13" ry="38" transform="rotate(-20 402.8 478.4)"/><ellipse class="ln" cx="411.0" cy="474.1" rx="13" ry="38" transform="rotate(-20 411.0 474.1)"/><ellipse class="ln" cx="419.1" cy="469.8" rx="13" ry="38" transform="rotate(-20 419.1 469.8)"/><ellipse class="ln" cx="427.3" cy="465.4" rx="13" ry="38" transform="rotate(-20 427.3 465.4)"/><ellipse class="ln" cx="435.4" cy="461.1" rx="13" ry="38" transform="rotate(-20 435.4 461.1)"/><ellipse class="ln" cx="443.6" cy="456.8" rx="13" ry="38" transform="rotate(-20 443.6 456.8)"/><ellipse class="ln" cx="451.8" cy="452.5" rx="13" ry="38" transform="rotate(-20 451.8 452.5)"/><ellipse class="ln" cx="459.9" cy="448.2" rx="13" ry="38" transform="rotate(-20 459.9 448.2)"/><ellipse class="ln" cx="468.1" cy="443.8" rx="13" ry="38" transform="rotate(-20 468.1 443.8)"/><ellipse class="ln" cx="476.2" cy="439.5" rx="13" ry="38" transform="rotate(-20 476.2 439.5)"/><ellipse class="ln" cx="484.4" cy="435.2" rx="13" ry="38" transform="rotate(-20 484.4 435.2)"/><ellipse class="ln" cx="492.6" cy="430.9" rx="13" ry="38" transform="rotate(-20 492.6 430.9)"/><ellipse class="ln" cx="500.7" cy="426.6" rx="13" ry="38" transform="rotate(-20 500.7 426.6)"/><ellipse class="ln" cx="508.9" cy="422.2" rx="13" ry="38" transform="rotate(-20 508.9 422.2)"/><ellipse class="ln" cx="517.0" cy="417.9" rx="13" ry="38" transform="rotate(-20 517.0 417.9)"/><ellipse class="ln" cx="525.2" cy="413.6" rx="13" ry="38" transform="rotate(-20 525.2 413.6)"/><ellipse class="ln" cx="533.4" cy="409.3" rx="13" ry="38" transform="rotate(-20 533.4 409.3)"/><ellipse class="ln" cx="541.5" cy="405.0" rx="13" ry="38" transform="rotate(-20 541.5 405.0)"/><ellipse class="ln" cx="549.7" cy="400.6" rx="13" ry="38" transform="rotate(-20 549.7 400.6)"/><ellipse class="ln" cx="557.8" cy="396.3" rx="13" ry="38" transform="rotate(-20 557.8 396.3)"/><ellipse class="ln" cx="566.0" cy="392.0" rx="13" ry="38" transform="rotate(-20 566.0 392.0)"/><path class="fk" d="M208,598 L318,545 L330,566 L218,626Z"/><ellipse class="fw" cx="212" cy="612" rx="9" ry="14" transform="rotate(-20 212 612)"/><circle class="fw" cx="305" cy="548" r="5"/><path class="fw" d="M152,624 L170,611 L196,615 L204,636 L201,650 L173,658 L152,648Z"/><ellipse class="ln" cx="176" cy="628" rx="13.0" ry="14.3"/><ellipse class="ln" cx="176" cy="628" rx="7.8" ry="9.1"/><path class="th" d="M152,624 L173,642 L204,636 M173,642 L173,658"/><path class="fw" d="M77,672 L97,658 L125,662 L133,684 L130,700 L99,708 L77,697Z"/><ellipse class="ln" cx="103" cy="676" rx="14.0" ry="15.400000000000002"/><ellipse class="ln" cx="103" cy="676" rx="8.4" ry="9.799999999999999"/><path class="th" d="M77,672 L99,690 L133,684 M99,690 L99,708"/></g>
<text class="big" x="726" y="994.5" font-size="22" textLength="100" lengthAdjust="spacing" xml:space="preserve">DETAIL  A</text>
</g>
<g id="lead">
<path class="ld" d="M176.8,357.0L257.5,366.2L275.5,344.0"/><path d="M275.5,344.0L271.3,352.2L268.4,349.8Z" fill="#111"/>
<path class="ld" d="M343.8,387.5L362.5,411.2"/><path d="M362.5,411.2L355.4,405.4L358.4,403.0Z" fill="#111"/>
<path class="ld" d="M297.0,434.5L308.8,420.5L368.0,420.5"/><path d="M368.0,420.5L359.0,422.4L359.0,418.6Z" fill="#111"/>
<path class="ld" d="M179.2,512.5L211.2,480.8"/><path d="M211.2,480.8L206.2,488.4L203.5,485.7Z" fill="#111"/>
<path class="ld" d="M382.5,395.5L402.5,414.2"/><path d="M402.5,414.2L394.6,409.5L397.2,406.7Z" fill="#111"/>
<path class="ld" d="M416.2,510.0L387.0,431.2"/><path d="M387.0,431.2L391.9,439.0L388.4,440.3Z" fill="#111"/>
<path class="ld" d="M473.8,525.5L473.8,502.5L480.0,494.5"/><path d="M480.0,494.5L476.0,502.8L473.0,500.4Z" fill="#111"/>
<path class="ld" d="M495.0,521.2L485.5,507.5L486.2,498.0"/><path d="M486.2,498.0L487.4,507.1L483.6,506.8Z" fill="#111"/>
<path class="ld" d="M533.0,512.0L503.0,503.8"/><path d="M503.0,503.8L512.2,504.3L511.2,508.0Z" fill="#111"/>
<path class="ld" d="M440.8,257.5L397.5,260.8L386.2,250.5"/><path d="M386.2,250.5L394.2,255.2L391.6,258.0Z" fill="#111"/>
<path class="ld" d="M717.5,82.5L702.0,107.5"/><path d="M702.0,107.5L705.1,98.8L708.4,100.9Z" fill="#111"/>
<path class="ld" d="M789.5,96.2L784.5,143.8"/><path d="M784.5,143.8L783.6,134.6L787.3,135.0Z" fill="#111"/>
<path class="ld" d="M815.0,107.0L803.8,132.5"/><path d="M803.8,132.5L805.6,123.5L809.1,125.0Z" fill="#111"/>
<path class="ld" d="M613.8,141.2L627.5,188.8"/><path d="M627.5,188.8L623.2,180.6L626.8,179.6Z" fill="#111"/>
<path class="ld" d="M681.2,230.0L665.0,211.2"/><path d="M665.0,211.2L672.3,216.8L669.5,219.3Z" fill="#111"/>
<path class="ld" d="M703.8,245.0L746.2,258.8"/><path d="M746.2,258.8L737.1,257.8L738.3,254.2Z" fill="#111"/>
<path class="ld" d="M370.0,147.5L399.0,233.0"/><path d="M399.0,233.0L394.3,225.1L397.9,223.9Z" fill="#111"/>
<path class="ld" d="M325.0,176.0L366.5,248.5"/><path d="M366.5,248.5L360.4,241.6L363.7,239.7Z" fill="#111"/>
<path class="ld" d="M365.0,191.0L381.0,239.0"/><path d="M381.0,239.0L376.4,231.1L380.0,229.9Z" fill="#111"/>
<path class="ld" d="M320.0,219.0L342.0,257.0"/><path d="M342.0,257.0L335.8,250.2L339.1,248.3Z" fill="#111"/>
<path class="ld" d="M245.0,208.8L294.5,232.0L324.5,307.0L341.0,301.5"/><path d="M341.0,301.5L333.1,306.1L331.9,302.5Z" fill="#111"/>
<path class="ld" d="M431.2,593.0L458.8,595.0"/><path d="M458.8,595.0L449.6,596.2L449.9,592.5Z" fill="#111"/>
<path class="ld" d="M528.8,573.0L493.8,607.5"/><path d="M493.8,607.5L498.8,599.8L501.5,602.5Z" fill="#111"/>
<path class="ld" d="M531.2,574.5L505.0,608.8"/><path d="M505.0,608.8L509.0,600.5L512.0,602.8Z" fill="#111"/>
<path class="ld" d="M536.2,576.0L536.2,626.2"/><path d="M536.2,626.2L534.4,617.2L538.1,617.2Z" fill="#111"/>
<path class="ld" d="M575.0,601.5L575.0,633.0"/><path d="M575.0,633.0L573.1,624.0L576.9,624.0Z" fill="#111"/>
<path class="ld" d="M597.0,620.0L587.0,661.2"/><path d="M587.0,661.2L587.3,652.1L591.0,653.0Z" fill="#111"/>
<path class="ld" d="M454.2,622.5L491.2,631.2"/><path d="M491.2,631.2L482.1,631.0L482.9,627.3Z" fill="#111"/>
<path class="ld" d="M427.5,656.2L460.5,673.0"/><path d="M460.5,673.0L451.6,670.6L453.3,667.2Z" fill="#111"/>
<path class="ld" d="M593.8,698.0L583.0,723.0"/><path d="M583.0,723.0L584.8,714.0L588.3,715.5Z" fill="#111"/>
<path class="ld" d="M432.0,717.5L454.0,711.0"/><path d="M454.0,711.0L445.9,715.4L444.8,711.7Z" fill="#111"/>
<path class="ld" d="M452.5,751.2L488.0,732.0"/><path d="M488.0,732.0L481.0,738.0L479.2,734.6Z" fill="#111"/>
<path class="ld" d="M493.8,764.5L522.0,752.5"/><path d="M522.0,752.5L514.5,757.8L513.0,754.3Z" fill="#111"/>
<path class="ld" d="M135.0,644.5L135.0,801.2L163.8,818.8"/><path d="M163.8,818.8L155.1,815.7L157.1,812.4Z" fill="#111"/>
<path class="ld" d="M193.8,650.0L185.5,724.5"/><path d="M185.5,724.5L184.6,715.3L188.4,715.8Z" fill="#111"/>
<path class="ld" d="M153.0,678.8L147.5,780.0L167.0,803.8"/><path d="M167.0,803.8L159.8,798.0L162.8,795.6Z" fill="#111"/>
<path class="ld" d="M234.2,670.8L255.0,732.5"/><path d="M255.0,732.5L250.3,724.6L253.9,723.4Z" fill="#111"/>
<path class="ld" d="M283.8,657.0L322.5,724.5"/><path d="M322.5,724.5L316.4,717.6L319.7,715.7Z" fill="#111"/>
<path class="ld" d="M268.0,689.2L298.8,733.0"/><path d="M298.8,733.0L292.0,726.7L295.1,724.5Z" fill="#111"/>
<path class="ld" d="M330.0,681.2L370.0,728.0"/><path d="M370.0,728.0L362.7,722.4L365.6,719.9Z" fill="#111"/>
<path class="ld" d="M258.0,771.2L241.2,778.0"/><path d="M241.2,778.0L248.9,772.9L250.3,776.4Z" fill="#111"/>
<path class="ld" d="M356.2,778.8L323.8,768.8"/><path d="M323.8,768.8L332.9,769.6L331.8,773.2Z" fill="#111"/>
<path class="ld" d="M384.5,836.2L342.0,818.8"/><path d="M342.0,818.8L351.0,820.4L349.6,823.9Z" fill="#111"/>
<path class="ld" d="M398.8,882.0L341.2,860.0"/><path d="M341.2,860.0L350.3,861.4L349.0,865.0Z" fill="#111"/>
<path class="ld" d="M405.0,916.2L341.2,883.8"/><path d="M341.2,883.8L350.1,886.1L348.4,889.5Z" fill="#111"/>
<path class="ld" d="M180.0,905.0L198.8,855.5"/><path d="M198.8,855.5L197.3,864.6L193.8,863.2Z" fill="#111"/>
<path class="ld" d="M328.0,957.0L290.5,935.0"/><path d="M290.5,935.0L299.2,937.9L297.3,941.2Z" fill="#111"/>
<path class="ld" d="M748.8,616.2L748.8,694.5"/><path d="M748.8,694.5L746.9,685.5L750.6,685.5Z" fill="#111"/>
<path class="ld" d="M807.0,620.0L793.0,688.0"/><path d="M793.0,688.0L793.0,678.8L796.7,679.6Z" fill="#111"/>
<path class="ld" d="M725.0,645.5L740.5,735.5"/><path d="M740.5,735.5L737.1,727.0L740.8,726.3Z" fill="#111"/>
<path class="ld" d="M690.0,688.8L738.0,787.5"/><path d="M738.0,787.5L732.4,780.2L735.8,778.6Z" fill="#111"/>
<path class="ld" d="M822.5,695.0L817.0,733.0"/><path d="M817.0,733.0L816.4,723.8L820.2,724.4Z" fill="#111"/>
<path class="ld" d="M681.2,779.5L711.2,803.8"/><path d="M711.2,803.8L703.1,799.6L705.4,796.6Z" fill="#111"/>
<path class="ld" d="M680.0,780.0L706.2,816.0"/><path d="M706.2,816.0L699.4,809.8L702.5,807.6Z" fill="#111"/>
<path class="ld" d="M833.8,783.8L820.0,803.8L796.2,807.0"/><path d="M796.2,807.0L804.9,803.9L805.4,807.7Z" fill="#111"/>
<path class="ld" d="M670.0,835.5L708.8,852.5"/><path d="M708.8,852.5L699.7,850.6L701.3,847.1Z" fill="#111"/>
<path class="ld" d="M618.8,905.0L636.2,953.8"/><path d="M636.2,953.8L631.4,945.9L635.0,944.6Z" fill="#111"/>
<path class="ld" d="M621.2,903.8L652.5,945.0"/><path d="M652.5,945.0L645.6,939.0L648.6,936.7Z" fill="#111"/>
<path class="ld" d="M813.8,920.0L794.5,895.0"/><path d="M794.5,895.0L801.5,901.0L798.5,903.3Z" fill="#111"/>
<path class="ld" d="M726.2,943.0L702.5,927.0"/><path d="M702.5,927.0L711.0,930.5L708.9,933.6Z" fill="#111"/>
<path class="ld" d="M687.5,968.8L675.0,941.2"/><path d="M675.0,941.2L680.5,948.7L677.0,950.2Z" fill="#111"/>
<path class="ld" d="M810.0,300.4L787.5,282.4"/><path d="M787.5,282.4L795.7,286.5L793.3,289.5Z" fill="#111"/>
</g>
<g id="co" class="co">
<circle cx="134.5" cy="354.3" r="13.4" style="stroke-width:2;stroke:#555"/><text x="134.5" y="358.6" font-size="12">42A</text>
<circle cx="163.5" cy="355.1" r="13.5"/><text x="163.5" y="359.6" font-size="12.5">42</text>
<circle cx="336.2" cy="376.8" r="13.8"/><text x="336.2" y="381.2" font-size="12.5">33</text>
<circle cx="287.2" cy="444.2" r="13.8"/><text x="287.2" y="448.8" font-size="12.5">46</text>
<circle cx="170.0" cy="521.8" r="13.8"/><text x="170.0" y="526.2" font-size="12.5">1</text>
<circle cx="373.8" cy="385.5" r="13.8"/><text x="373.8" y="390.0" font-size="12.5">34</text>
<circle cx="421.2" cy="523.0" r="13.8"/><text x="421.2" y="527.5" font-size="12.5">32</text>
<circle cx="475.0" cy="538.8" r="13.8"/><text x="475.0" y="543.2" font-size="12.5">31</text>
<circle cx="503.8" cy="531.8" r="13.8"/><text x="503.8" y="536.2" font-size="12.5">30</text>
<circle cx="545.5" cy="515.8" r="13.8"/><text x="545.5" y="520.2" font-size="12.5">29</text>
<circle cx="453.8" cy="252.0" r="13.8"/><text x="453.8" y="256.5" font-size="12.5">41</text>
<circle cx="725.0" cy="71.2" r="13.8"/><text x="725.0" y="75.8" font-size="12.5">35</text>
<circle cx="790.5" cy="83.0" r="13.8"/><text x="790.5" y="87.5" font-size="12.5">37</text>
<circle cx="821.2" cy="95.0" r="13.8"/><text x="821.2" y="99.5" font-size="12.5">36</text>
<circle cx="609.5" cy="128.2" r="13.8"/><text x="609.5" y="132.8" font-size="12.5">36</text>
<circle cx="691.2" cy="239.2" r="13.8"/><text x="691.2" y="243.8" font-size="12.5">37</text>
<circle cx="364.5" cy="134.5" r="13.8"/><text x="364.5" y="139.0" font-size="12.5">45</text>
<circle cx="317.0" cy="164.5" r="13.8"/><text x="317.0" y="169.0" font-size="12.5">44</text>
<circle cx="359.0" cy="178.5" r="13.8"/><text x="359.0" y="183.0" font-size="12.5">43</text>
<circle cx="232.5" cy="201.5" r="13.8"/><text x="232.5" y="206.0" font-size="12.5">40</text>
<circle cx="312.5" cy="207.0" r="13.8"/><text x="312.5" y="211.5" font-size="12.5">39</text>
<circle cx="418.0" cy="592.0" r="13.8"/><text x="418.0" y="596.5" font-size="12.5">2</text>
<circle cx="535.0" cy="562.5" r="13.8"/><text x="535.0" y="567.0" font-size="12.5">7</text>
<circle cx="575.0" cy="588.2" r="13.8"/><text x="575.0" y="592.8" font-size="12.5">3</text>
<circle cx="600.5" cy="607.0" r="13.8"/><text x="600.5" y="611.5" font-size="12.5">5</text>
<circle cx="441.2" cy="618.8" r="13.8"/><text x="441.2" y="623.2" font-size="12.5">38</text>
<circle cx="417.0" cy="648.2" r="13.8"/><text x="417.0" y="652.8" font-size="12.5">4</text>
<circle cx="598.0" cy="685.5" r="13.8"/><text x="598.0" y="690.0" font-size="12.5">8</text>
<circle cx="418.8" cy="720.0" r="13.8"/><text x="418.8" y="724.5" font-size="12.5">2</text>
<circle cx="441.2" cy="758.2" r="13.8"/><text x="441.2" y="762.8" font-size="12.5">6</text>
<circle cx="482.0" cy="771.2" r="13.8"/><text x="482.0" y="775.8" font-size="12.5">5</text>
<circle cx="135.5" cy="631.2" r="13.8"/><text x="135.5" y="635.8" font-size="12.5">11</text>
<circle cx="195.5" cy="637.0" r="13.8"/><text x="195.5" y="641.5" font-size="12.5">15</text>
<circle cx="154.5" cy="665.5" r="13.8"/><text x="154.5" y="670.0" font-size="12.5">10</text>
<circle cx="230.0" cy="658.0" r="13.8"/><text x="230.0" y="662.5" font-size="12.5">18</text>
<circle cx="277.0" cy="645.0" r="13.8"/><text x="277.0" y="649.5" font-size="12.5">16</text>
<circle cx="260.5" cy="677.5" r="13.8"/><text x="260.5" y="682.0" font-size="12.5">16</text>
<circle cx="321.2" cy="670.8" r="13.8"/><text x="321.2" y="675.2" font-size="12.5">13</text>
<circle cx="271.2" cy="766.2" r="13.8"/><text x="271.2" y="770.8" font-size="12.5">16</text>
<circle cx="368.8" cy="784.5" r="13.8"/><text x="368.8" y="789.0" font-size="12.5">12</text>
<circle cx="397.0" cy="841.8" r="13.8"/><text x="397.0" y="846.2" font-size="12.5">11</text>
<circle cx="410.5" cy="888.2" r="13.8"/><text x="410.5" y="892.8" font-size="12.5">9</text>
<circle cx="415.8" cy="923.8" r="13.8"/><text x="415.8" y="928.2" font-size="12.5">10</text>
<circle cx="173.8" cy="916.8" r="13.8"/><text x="173.8" y="921.2" font-size="12.5">17</text>
<circle cx="340.0" cy="963.8" r="13.8"/><text x="340.0" y="968.2" font-size="12.5">14</text>
<circle cx="748.8" cy="603.0" r="13.8"/><text x="748.8" y="607.5" font-size="12.5">25</text>
<circle cx="809.2" cy="607.0" r="13.8"/><text x="809.2" y="611.5" font-size="12.5">21</text>
<circle cx="722.5" cy="632.5" r="13.8"/><text x="722.5" y="637.0" font-size="12.5">24</text>
<circle cx="683.8" cy="676.2" r="13.8"/><text x="683.8" y="680.8" font-size="12.5">19</text>
<circle cx="824.5" cy="681.8" r="13.8"/><text x="824.5" y="686.2" font-size="12.5">20</text>
<circle cx="673.8" cy="768.0" r="13.8"/><text x="673.8" y="772.5" font-size="12.5">24</text>
<circle cx="840.8" cy="772.5" r="13.8"/><text x="840.8" y="777.0" font-size="12.5">6</text>
<circle cx="657.5" cy="830.0" r="13.8"/><text x="657.5" y="834.5" font-size="12.5">23</text>
<circle cx="612.5" cy="893.0" r="13.8"/><text x="612.5" y="897.5" font-size="12.5">26</text>
<circle cx="822.5" cy="931.2" r="13.8"/><text x="822.5" y="935.8" font-size="12.5">22</text>
<circle cx="736.8" cy="951.2" r="13.8"/><text x="736.8" y="955.8" font-size="12.5">28</text>
<circle cx="692.5" cy="981.2" r="13.8"/><text x="692.5" y="985.8" font-size="12.5">27</text>
<circle cx="821.1" cy="309.8" r="13.8"/><text x="821.1" y="314.3" font-size="12.5">36</text>
</g>
<g id="wm"><g class="wm" transform="translate(92,1069) rotate(-45)" stroke-linejoin="miter"><text transform="translate(4.6,-7.0) scale(0.629,0.954)" font-size="121.5" stroke-width="14">B</text><text transform="translate(68.2,-6.0) scale(0.795,1.070)" font-size="121.5" stroke-width="12">a</text><text transform="translate(130.3,-7.0) scale(0.744,0.954)" font-size="121.5" stroke-width="14">d</text><text transform="translate(194.8,-7.0) scale(0.629,0.954)" font-size="121.5" stroke-width="14">B</text><text transform="translate(259.4,-7.0) scale(0.721,1.039)" font-size="121.5" stroke-width="14">o</text><text transform="translate(320.6,-5.0) scale(0.762,1.102)" font-size="121.5" stroke-width="10">y</text><text transform="translate(375.8,-5.0) scale(0.798,1.000)" font-size="121.5" stroke-width="10">M</text><text transform="translate(462.2,-7.0) scale(0.721,1.039)" font-size="121.5" stroke-width="14">o</text><text transform="translate(520.8,-5.0) scale(0.925,1.102)" font-size="121.5" stroke-width="10">w</text><text transform="translate(612.2,-6.0) scale(0.826,1.070)" font-size="121.5" stroke-width="12">e</text><text transform="translate(675.6,-5.0) scale(0.779,1.102)" font-size="121.5" stroke-width="10">r</text><text transform="translate(721.4,-7.0) scale(0.611,0.954)" font-size="121.5" stroke-width="14">P</text><text transform="translate(779.6,-6.0) scale(0.795,1.070)" font-size="121.5" stroke-width="12">a</text><text transform="translate(841.0,-5.0) scale(0.779,1.102)" font-size="121.5" stroke-width="10">r</text><text transform="translate(886.1,-5.0) scale(0.779,1.000)" font-size="121.5" stroke-width="10">t</text><text transform="translate(924.7,-5.0) scale(0.782,1.102)" font-size="121.5" stroke-width="10">s</text><text transform="translate(988.6,-3.0) scale(0.479,1.000)" font-size="121.5" stroke-width="6">.</text><text transform="translate(1005.9,-5.0) scale(0.801,1.102)" font-size="121.5" stroke-width="10">c</text><text transform="translate(1067.5,-7.0) scale(0.721,1.039)" font-size="121.5" stroke-width="14">o</text><text transform="translate(1125.5,-5.0) scale(0.896,1.102)" font-size="121.5" stroke-width="10">m</text></g></g>
</svg>
</body>
</html>
